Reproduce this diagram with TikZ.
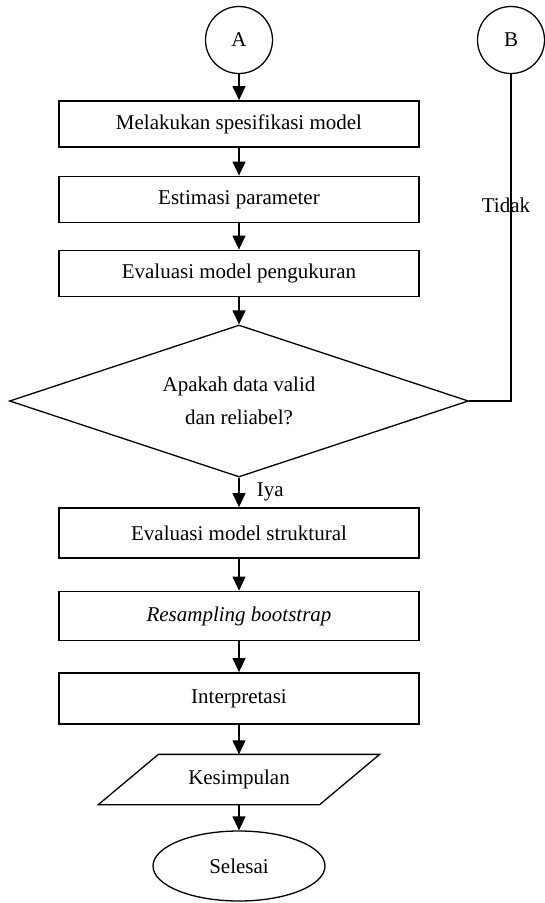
\documentclass[tikz,border=0pt]{standalone}
\usepackage{fontspec}
\setmainfont{Liberation Serif}
\usetikzlibrary{arrows.meta,calc,positioning,shapes.geometric}

\begin{document}
\begin{tikzpicture}[x=1pt,y=-1pt,font=\fontsize{21}{33}\selectfont,every path/.style={line width=1.3pt},
	proses/.style={draw,rectangle,minimum width=360pt,minimum height=46pt,line width=1.8pt},
	konektor/.style={draw,circle,minimum size=67pt,inner sep=0pt},
	putusan/.style={draw,diamond,aspect=3,minimum width=459pt,minimum height=152pt,inner sep=0pt,align=center},
	terminal/.style={draw,ellipse,minimum width=172pt,minimum height=70pt,inner sep=0pt},
	panah/.style={-{Triangle[length=14pt,width=13pt]}}]
	\useasboundingbox (0,0) rectangle (544,903);

	\node[konektor] (A) at (239,40) {A};
	\node[konektor] (B) at (511,40) {B};
	\node[proses] (spesifikasi) at (239,124) {Melakukan spesifikasi model};
	\node[proses] (estimasi) at (239,199.5) {Estimasi parameter};
	\node[proses] (ukur) at (239,273.5) {Evaluasi model pengukuran};
	\node[putusan] (cek) at (239,401) {Apakah data valid\\dan reliabel?};
	\node[proses,minimum height=50pt] (struktur) at (239,533) {Evaluasi model struktural};
	\node[proses,minimum height=49pt] (bootstrap) at (239,616) {\textit{Resampling bootstrap}};
	\node[proses,minimum height=51pt] (interpretasi) at (239,698.5) {Interpretasi};
	\node[minimum width=220pt,minimum height=49pt] (simpul) at (239,779.5) {Kesimpulan};
	\draw ([xshift=30pt]simpul.north west) -- ([xshift=30pt]simpul.north east) -- ([xshift=-30pt]simpul.south east) -- ([xshift=-30pt]simpul.south west) -- cycle;
	\node[terminal] (selesai) at (239,866) {Selesai};

	\draw[panah] (A) -- (spesifikasi);
	\draw[panah] (spesifikasi) -- (estimasi);
	\draw[panah] (estimasi) -- (ukur);
	\draw[panah] (ukur) -- (cek);
	\draw[panah] (cek) -- node[midway,right=14pt] {Iya} (struktur);
	\draw[panah] (struktur) -- (bootstrap);
	\draw[panah] (bootstrap) -- (interpretasi);
	\draw[panah] (interpretasi) -- (simpul);
	\draw[panah] (simpul) -- (selesai);
	\draw (B) |- node[pos=0.2,xshift=-5pt] {Tidak} (cek.east);
\end{tikzpicture}
\end{document}
